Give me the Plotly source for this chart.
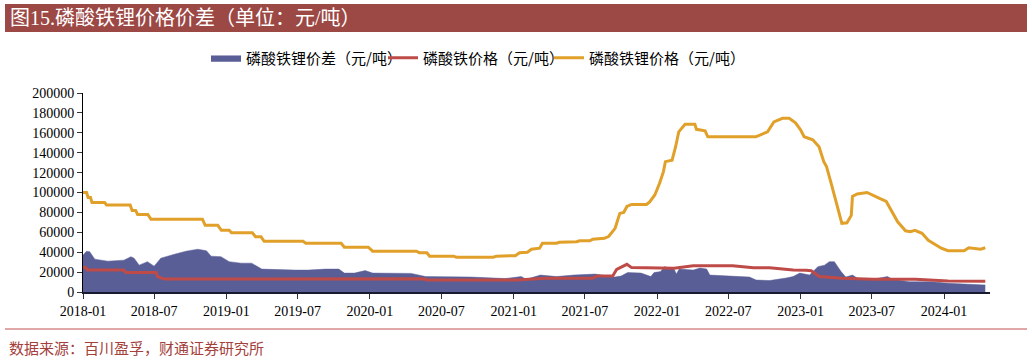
import plotly.graph_objects as go

# ---------------- data ----------------
gap_dates = ["2018-01-01", "2018-01-10", "2018-01-18", "2018-01-31", "2018-03-05", "2018-04-15",
             "2018-05-03", "2018-05-11", "2018-05-24", "2018-06-14", "2018-07-01", "2018-07-18",
             "2018-08-22", "2018-09-20", "2018-10-20", "2018-11-11", "2018-11-23", "2018-12-18",
             "2019-01-08", "2019-02-07", "2019-03-06", "2019-04-01", "2019-06-25", "2019-07-28",
             "2019-09-10", "2019-10-14", "2019-10-28", "2019-11-23", "2019-12-20", "2020-01-08",
             "2020-04-15", "2020-05-22", "2020-09-16", "2020-12-10", "2021-01-20", "2021-02-02",
             "2021-03-10", "2021-04-20", "2021-06-03", "2021-07-27", "2021-09-15", "2021-10-01",
             "2021-10-18", "2021-11-21", "2021-12-16", "2021-12-24", "2022-01-10", "2022-01-19",
             "2022-02-13", "2022-02-19", "2022-02-26", "2022-04-03", "2022-04-20", "2022-05-07",
             "2022-05-15", "2022-07-12", "2022-08-24", "2022-09-10", "2022-10-14", "2022-11-25",
             "2022-12-13", "2022-12-30", "2023-01-24", "2023-02-14", "2023-03-03", "2023-03-15",
             "2023-03-28", "2023-04-14", "2023-04-26", "2023-05-13", "2023-05-30", "2023-07-04",
             "2023-08-10", "2023-08-23", "2023-10-04", "2023-12-01", "2024-01-11", "2024-04-15"]
gap_vals = [37000, 41000, 40500, 33000, 31000, 32000,
            35500, 34000, 27000, 30500, 26000, 34000,
            38000, 41000, 43000, 41500, 36000, 35500,
            30500, 29000, 29000, 23000, 22000, 22000,
            23000, 23000, 19000, 19000, 21500, 19000,
            18700, 15500, 15000, 13500, 15500, 12800,
            17000, 15500, 17000, 18000, 15000, 16000,
            19500, 19000, 15500, 19500, 20500, 25500,
            23000, 18000, 23000, 22000, 24000, 23000,
            17000, 16000, 15000, 12000, 11500, 14000,
            15500, 19000, 17000, 25500, 27000, 30500,
            30500, 20500, 15000, 17000, 12800, 12800,
            15500, 12800, 10300, 10300, 8700, 7000]

fepo4_dates = ["2018-01-01", "2018-01-08", "2018-01-12", "2018-04-15", "2018-04-20", "2018-07-06",
               "2018-07-10", "2018-07-27", "2020-05-18", "2020-05-24", "2021-01-09", "2021-03-24",
               "2021-07-21", "2021-07-31", "2021-09-10", "2021-09-20", "2021-10-16", "2021-10-28",
               "2022-02-13", "2022-04-03", "2022-07-12", "2022-09-03", "2022-10-14", "2022-12-13",
               "2023-01-15", "2023-01-28", "2023-02-18", "2023-04-16", "2023-07-04", "2023-10-20",
               "2024-01-11", "2024-04-15"]
fepo4_vals = [24800, 24500, 22000, 22000, 19500, 19500,
              15500, 13000, 13200, 12000, 12000, 13800,
              13800, 16000, 16000, 22800, 27800, 24500,
              23800, 26400, 26400, 24400, 24400, 22000,
              21800, 21400, 15500, 13800, 12800, 12800,
              11000, 10800]

lfp_dates = ["2018-01-01", "2018-01-10", "2018-01-14", "2018-01-20", "2018-01-24", "2018-02-25",
             "2018-03-02", "2018-05-01", "2018-05-06", "2018-05-15", "2018-05-20", "2018-06-15",
             "2018-06-23", "2018-11-01", "2018-11-08", "2018-12-10", "2018-12-19", "2019-01-08",
             "2019-01-14", "2019-03-08", "2019-03-16", "2019-03-30", "2019-04-07", "2019-07-15",
             "2019-07-22", "2019-10-20", "2019-10-28", "2019-12-28", "2020-01-08", "2020-04-28",
             "2020-05-06", "2020-05-25", "2020-06-01", "2020-08-01", "2020-08-08", "2020-11-10",
             "2020-11-18", "2021-01-05", "2021-01-16", "2021-02-05", "2021-02-15", "2021-03-08",
             "2021-03-15", "2021-04-20", "2021-04-27", "2021-06-10", "2021-06-18", "2021-07-14",
             "2021-07-21", "2021-08-10", "2021-08-20", "2021-08-31", "2021-09-16", "2021-09-28",
             "2021-10-08", "2021-10-16", "2021-10-28", "2021-12-05", "2021-12-13", "2021-12-26",
             "2022-01-07", "2022-01-17", "2022-01-22", "2022-02-08", "2022-02-17", "2022-02-25",
             "2022-03-13", "2022-04-07", "2022-04-11", "2022-05-03", "2022-05-10", "2022-09-09",
             "2022-09-22", "2022-10-09", "2022-10-25", "2022-11-16", "2022-12-03", "2022-12-19",
             "2023-01-01", "2023-01-10", "2023-02-01", "2023-02-17", "2023-03-01", "2023-03-08",
             "2023-03-20", "2023-04-03", "2023-04-16", "2023-04-29", "2023-05-10", "2023-05-13",
             "2023-05-25", "2023-06-19", "2023-07-04", "2023-07-21", "2023-08-07", "2023-08-19",
             "2023-09-05", "2023-09-25", "2023-10-07", "2023-10-19", "2023-11-06", "2023-11-22",
             "2023-12-08", "2023-12-25", "2024-01-11", "2024-02-21", "2024-03-04", "2024-03-20",
             "2024-04-03", "2024-04-15"]
lfp_vals = [100000, 100000, 95000, 95000, 90000, 90000,
            87500, 87500, 82000, 82000, 78000, 78000,
            73000, 73000, 67000, 67000, 62000, 62000,
            59500, 59500, 55500, 55500, 51000, 51000,
            49000, 49000, 45000, 45000, 41000, 41000,
            39500, 39500, 36000, 36000, 35000, 35000,
            36000, 36500, 39500, 40000, 43000, 44000,
            49000, 49000, 50000, 50500, 51500, 51500,
            53000, 53500, 54000, 56000, 64000, 79000,
            80000, 86000, 88000, 88000, 90500, 97500,
            109000, 121000, 131000, 132500, 146000, 161000,
            168500, 168500, 163500, 162000, 156000, 156000,
            158500, 161000, 171000, 174500, 174500, 170000,
            163000, 156000, 153000, 146000, 131000, 126000,
            109000, 89000, 69000, 69500, 77000, 96000,
            98500, 100000, 97500, 94000, 91000, 82500,
            70500, 61500, 60500, 62000, 59000, 52000,
            48000, 44000, 41500, 41500, 44500, 44000,
            43000, 44500]

series_names = ["磷酸铁锂价差（元/吨）", "磷酸铁价格（元/吨）", "磷酸铁锂价格（元/吨）"]
title_text = "图15.磷酸铁锂价格价差（单位：元/吨）"
source_text = "数据来源：百川盈孚，财通证券研究所"

# ---------------- layout helpers (pixel -> paper) ----------------
W, H = 1032, 361
ML, MR, MT, MB = 83, 42, 93, 69
PW, PH = W - ML - MR, H - MT - MB


def px(x):
    return (x - ML) / PW


def py(y):
    return (H - MB - y) / PH


C_GAP = "#5A5E96"
C_FE = "#BE4B48"
C_LFP = "#E1A02A"
C_BAR = "#9C4845"

fig = go.Figure()
fig.add_trace(go.Scatter(x=gap_dates, y=gap_vals, name=series_names[0], mode="lines",
                         fill="tozeroy", fillcolor=C_GAP, line=dict(color=C_GAP, width=0.5),
                         legend="legend"))
fig.add_trace(go.Scatter(x=fepo4_dates, y=fepo4_vals, name=series_names[1], mode="lines",
                         line=dict(color=C_FE, width=3), legend="legend2"))
fig.add_trace(go.Scatter(x=lfp_dates, y=lfp_vals, name=series_names[2], mode="lines",
                         line=dict(color=C_LFP, width=3), legend="legend3"))

leg_font = dict(family="Noto Sans CJK SC", size=15, color="#000000")
leg_common = dict(orientation="h", bgcolor="rgba(0,0,0,0)", font=leg_font,
                  xanchor="left", yanchor="middle", itemwidth=30)

fig.update_layout(
    width=W, height=H,
    margin=dict(l=ML, r=MR, t=MT, b=MB),
    paper_bgcolor="white", plot_bgcolor="white",
    showlegend=True,
    legend=dict(x=px(206), y=py(58), **leg_common),
    legend2=dict(x=px(383), y=py(58), **leg_common),
    legend3=dict(x=px(549), y=py(58), **leg_common),
    xaxis=dict(type="date", range=["2018-01-01", "2024-04-27"], tick0="2018-01-01", dtick="M6",
               tickformat="%Y-%m", showgrid=False, zeroline=False, showline=True,
               linecolor="#1a1a2e", linewidth=1.5, ticks="outside", ticklen=5, tickcolor="#333333",
               tickfont=dict(family="Liberation Serif", size=14, color="#000000")),
    yaxis=dict(range=[0, 200000], dtick=20000, showgrid=False, zeroline=False, showline=True,
               linecolor="#000000", linewidth=1, ticks="outside", ticklen=5, tickcolor="#333333",
               tickformat="d",
               tickfont=dict(family="Liberation Serif", size=14, color="#000000")),
    shapes=[
        dict(type="rect", xref="paper", yref="paper", x0=px(5), x1=px(1027), y0=py(32), y1=py(4),
             fillcolor=C_BAR, line=dict(width=0), layer="below"),
        dict(type="line", xref="paper", yref="paper", x0=px(5), x1=px(1027), y0=py(329), y1=py(329),
             line=dict(color="#C0504D", width=1)),
    ],
    annotations=[
        dict(text=title_text, xref="paper", yref="paper", x=px(8), y=py(18), xanchor="left",
             yanchor="middle", showarrow=False,
             font=dict(family="Liberation Serif, Noto Sans CJK SC", size=20, color="#FFFFFF")),
        dict(text=source_text, xref="paper", yref="paper", x=px(7), y=py(347), xanchor="left",
             yanchor="middle", showarrow=False,
             font=dict(family="Noto Sans CJK SC", size=15, color="#A4403C")),
    ],
)

fig.write_html("out.html")
